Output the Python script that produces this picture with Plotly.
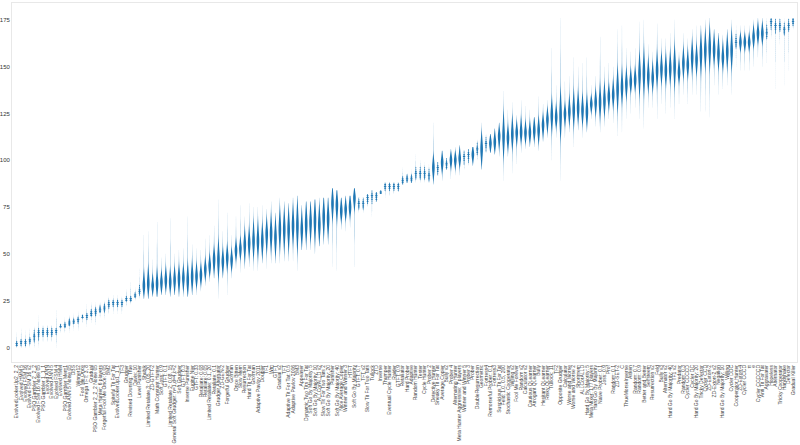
import plotly.graph_objects as go

labels = [
    "EvolvedLookerUp2_2_2", "Evolved HMM 5", "Evolved FSM 16", "Evolved FSM 16 v2", "PSO Gambler 2_2_2", "Evolved FSM 16 Noise 05", "PSO Gambler 1_1_1", "Evolved ANN", "Evolved ANN 5", "Evolved FSM 4",
    "Evolved HMM", "PSO Gambler Mem1", "Evolved ANN 5 Noise 05", "DBS", "Winner12", "Fool Me Once", "Omega TFT: 3, 8", "Gradual", "PSO Gambler 2_2_2 Noise 05", "Meta Hunter: 6 players",
    "Forgetful Fool Me Once: 0.05", "BM2", "Spiteful Tit For Tat", "EvolvedLookerUp1_1_1", "TF3", "Grudger", "Revised Downing: True", "Davis: 10", "Level Punisher", "Shubik",
    "Limited Retaliate 3: 0.05, 20", "ZD-GTFT-2", "Math Constant Hunter", "Soft Joss: 0.9", "GTFT: 0.1", "Limited Retaliate 2: 0.08, 15", "General Soft Grudger: n=1,d=4,c=2", "Soft Grudger", "GTFT: 0.3", "Inverse Punisher",
    "Eugine Nier", "GTFT: 0.33", "Retaliate: 0.08", "Retaliate: 0.05", "Limited Retaliate: 0.1, 20", "Retaliate: 0.1", "Grudger Alternator", "ZD-GEN-2", "Forgetful Grudger", "Gofman",
    "Once Bitten", "Slow Mem", "Resurrection", "Hard Tit For Tat", "Grofman", "Adaptive Pavlov 2011", "Doubler", "TF1", "Wm", "GTFT",
    "Gradual v2", "TFT", "Adaptive Tit For Tat: 0.5", "Adaptive Pavlov 2006", "BM3", "Appeaser", "Dynamic Two Tits For Tat", "Soft Go By Majority: 5", "Soft Go By Majority: 10", "ALLCorALLD v2",
    "Slow Tit For Two Tats 2", "Soft Go By Majority: 20", "Punisher", "Soft Go By Majority: 40", "Nice Average Copier", "Winner and Winner 3", "HTFT", "Soft Go By Majority", "GTFT: 0.7", "TFT v2",
    "Slow Tit For Two Tats", "Tullock", "ZTD", "Inverse", "Thumper", "Eventual Cycle Hunter", "Raider", "GTFT: 0.9", "Retaliator", "Hard Prober",
    "Adaptive", "Random Hunter", "Tester", "Cycle Hunter", "Prober 2", "Detective Hunter", "Sneaky Tit For Tat", "Average Copier", "Bully v2", "Prober 4",
    "Alternating Hunter", "Meta Hunter Aggressive: 7 players", "Winner and Winner 5", "Prober 3", "Prober", "DoubleResurrection", "Geometric", "Fortress4", "Remorseful Prober: 0.1", "Fortress3",
    "Suspicious Tit For Tat", "Feld: 1.0, 0.5, 200", "Stochastic Cooperator", "Willing v2", "Fool Me Forever", "Random v2", "Calculator v2", "Cautious QLearner", "Arrogant QLearner", "Bully",
    "Hesitant QLearner", "Risky QLearner", "Tullock: 11", "TF2", "Opposite Grudger", "Calculator", "Worse and Worse", "Worse and Worse 2", "Shortmem", "ALLCorALLD",
    "Hard Go By Majority: 5", "Meta Mixer: 177 players", "Hard Go By Majority", "Naive Prober: 0.1", "Joss: 0.9", "Prof", "Random: 0.1", "ZD-SET-2", "C", "ThueMorseInverse",
    "Aitken", "Random: 0.7", "Random: 0.9", "Better and Better", "Selfsteem", "Resurrection v2", "Feld", "Bully v3", "Alternator v2", "Hard Go By Majority: 40",
    "TF1 v2", "Predator", "Random: 0.3", "Cycler CCCCD", "Cycler DC", "Hard Go By Majority: 20", "Tricky Defector", "Cycler CCD", "ZD-Extort-2", "ZD-Extort-2 v2",
    "Negation", "Hard Go By Majority: 10", "Willing", "Cycler DDC", "Cooperator Hunter", "ZD-Extort-4", "Cycler CCCD", "π", "e", "Cycler CCCCCD",
    "Anti Tit For Tat", "Aggravater", "Hopeless", "Alternator", "Tricky Cooperator", "Handshake", "Defector", "Gradual Killer",
]

medians = [
    2, 3, 3, 4, 6, 8, 8, 8, 8, 9, 11, 12, 13, 14, 15, 16, 17, 18, 19, 20,
    21, 23, 24, 24, 24, 26, 26, 28, 30, 33, 34, 33, 34, 35, 36, 35, 36, 37, 37, 36,
    38, 38, 39, 42, 44, 47, 47, 46, 48, 47, 52, 53, 55, 56, 57, 57, 57, 61, 61, 59,
    63, 63, 63, 65, 65, 63, 66, 67, 68, 66, 70, 69, 77, 76, 73, 74, 75, 80, 77, 77,
    80, 81, 81, 83, 86, 86, 86, 86, 89, 90, 90, 93, 93, 93, 92, 96, 96, 99, 98, 100,
    100, 101, 102, 103, 103, 106, 106, 109, 109, 110, 113, 113, 112, 114, 115, 115, 115, 115, 116, 116,
    119, 122, 124, 123, 124, 125, 126, 127, 128, 127, 126, 130, 131, 131, 132, 134, 135, 138, 139, 141,
    142, 143, 146, 147, 145, 144, 148, 149, 148, 149, 150, 147, 152, 151, 155, 154, 157, 159, 160, 159,
    157, 155, 158, 159, 163, 163, 163, 163, 166, 168, 168, 168, 174, 172, 172, 170, 172, 174,
]
q1 = [
    1, 1, 1, 2, 3, 4, 6, 6, 6, 7, 11, 11, 12, 13, 13, 16, 15, 17, 17, 19,
    19, 21, 22, 22, 22, 25, 25, 27, 28, 28, 28, 29, 28, 30, 31, 30, 30, 30, 31, 29,
    31, 33, 34, 37, 39, 40, 38, 40, 42, 42, 47, 48, 47, 49, 49, 49, 49, 52, 52, 50,
    53, 53, 53, 56, 53, 55, 57, 58, 57, 57, 60, 60, 69, 68, 68, 69, 70, 74, 74, 74,
    77, 77, 78, 82, 84, 84, 84, 84, 87, 88, 88, 90, 90, 90, 89, 90, 92, 94, 95, 96,
    96, 97, 98, 99, 99, 103, 98, 105, 105, 105, 107, 103, 106, 107, 109, 110, 110, 110, 111, 110,
    113, 116, 116, 118, 113, 119, 120, 119, 121, 120, 119, 126, 125, 123, 125, 128, 129, 128, 131, 134,
    137, 138, 136, 136, 138, 138, 140, 142, 141, 142, 140, 142, 145, 145, 147, 147, 147, 150, 150, 152,
    150, 149, 150, 150, 160, 159, 159, 159, 161, 163, 163, 165, 170, 168, 169, 167, 169, 172,
]
q3 = [
    3, 4, 4, 5, 9, 10, 10, 10, 10, 10, 12, 13, 15, 15, 16, 17, 18, 20, 21, 22,
    23, 25, 25, 25, 25, 27, 27, 29, 33, 40, 42, 38, 41, 40, 42, 41, 42, 43, 43, 44,
    45, 44, 44, 47, 49, 53, 56, 52, 54, 52, 57, 58, 62, 63, 66, 66, 65, 68, 70, 68,
    73, 73, 73, 75, 77, 72, 76, 76, 78, 75, 79, 78, 85, 84, 79, 79, 81, 85, 80, 80,
    82, 84, 83, 84, 88, 88, 88, 88, 91, 92, 92, 96, 96, 96, 95, 102, 99, 104, 101, 104,
    104, 106, 105, 106, 107, 109, 114, 112, 113, 115, 118, 124, 118, 122, 120, 122, 120, 120, 122, 122,
    124, 127, 132, 129, 136, 130, 133, 136, 136, 134, 134, 134, 137, 140, 140, 140, 142, 148, 148, 148,
    148, 149, 156, 158, 153, 151, 157, 156, 156, 157, 160, 153, 159, 158, 163, 161, 167, 168, 170, 167,
    165, 162, 166, 168, 167, 167, 167, 167, 171, 173, 173, 172, 176, 175, 175, 173, 175, 176,
]
lows = [
    0, 0, 0, 0, 0, 0, 3, 3, 3, 0, 8, 8, 8, 9, 9, 13, 11, 13, 12, 16,
    15, 18, 18, 18, 18, 22, 23, 25, 26, 26, 26, 27, 27, 28, 28, 27, 28, 27, 27, 27,
    28, 28, 30, 33, 35, 37, 26, 37, 28, 37, 42, 40, 42, 43, 41, 41, 45, 42, 45, 45,
    45, 46, 46, 46, 41, 52, 52, 52, 50, 54, 55, 55, 43, 41, 63, 62, 64, 43, 72, 72,
    75, 70, 78, 82, 80, 81, 82, 83, 88, 88, 88, 88, 88, 88, 88, 87, 92, 89, 95, 90,
    92, 92, 95, 97, 97, 100, 95, 104, 104, 103, 102, 89, 102, 93, 98, 104, 106, 107, 107, 105,
    110, 112, 100, 112, 89, 112, 115, 107, 116, 112, 115, 122, 118, 115, 118, 122, 120, 113, 115, 122,
    125, 128, 122, 117, 128, 128, 122, 130, 125, 128, 122, 130, 135, 130, 135, 135, 126, 126, 123, 140,
    135, 138, 140, 135, 150, 148, 148, 148, 150, 155, 150, 152, 165, 138, 162, 140, 148, 170,
]
highs = [
    8, 10, 9, 10, 11, 17, 12, 12, 12, 20, 13, 16, 17, 18, 19, 18, 23, 24, 24, 24,
    25, 27, 28, 28, 27, 31, 35, 32, 42, 60, 62, 47, 67, 48, 50, 69, 50, 52, 53, 70,
    55, 53, 52, 58, 60, 65, 79, 62, 72, 60, 70, 76, 70, 77, 75, 75, 76, 74, 78, 72,
    80, 78, 77, 80, 81, 76, 78, 78, 79, 80, 80, 80, 82, 82, 80, 81, 80, 84, 80, 80,
    82, 84, 83, 84, 88, 88, 88, 88, 96, 93, 95, 103, 100, 99, 98, 120, 99, 105, 101, 106,
    107, 108, 105, 106, 107, 111, 120, 114, 114, 117, 120, 137, 127, 131, 124, 132, 129, 127, 123, 134,
    130, 132, 160, 140, 176, 142, 145, 155, 150, 152, 155, 140, 145, 166, 150, 152, 150, 170, 172, 160,
    158, 160, 174, 175, 162, 158, 173, 165, 165, 168, 175, 158, 168, 165, 170, 172, 172, 175, 176, 170,
    168, 167, 170, 175, 172, 172, 172, 172, 175, 176, 176, 176, 176, 176, 176, 176, 176, 176,
]
y_ticks = [0, 25, 50, 75, 100, 125, 150, 175]

assert len(labels) == len(medians) == len(q1) == len(q3) == len(lows) == len(highs), (
    len(labels), len(medians), len(q1), len(q3), len(lows), len(highs))

fig = go.Figure()

for i, name in enumerate(labels):
    spread = q3[i] - q1[i]
    # ranks seen for this strategy: every rank once, the busy middle many times
    core = list(range(q1[i], q3[i] + 1))
    inner = list(range((q1[i] + medians[i]) // 2, (medians[i] + q3[i]) // 2 + 1))
    outer = list(range((lows[i] + q1[i]) // 2, (q3[i] + highs[i]) // 2 + 1))
    ranks = list(range(lows[i], highs[i] + 1)) + outer * 2 + core * 12 + inner * 12 + [medians[i]] * (spread * 2)
    fig.add_trace(go.Violin(
        x=[i] * len(ranks),
        y=ranks,
        name=name,
        width=0.6,
        bandwidth=0.28 if spread <= 7 else spread / 7,
        spanmode='hard',
        scalemode='width',
        points=False,
        line=dict(width=0),
        fillcolor='#1f77b4',
        showlegend=False))

fig.update_layout(
    template='none',
    width=800,
    height=445,
    margin=dict(l=12, r=3, t=3, b=83, pad=0),
    paper_bgcolor='white',
    plot_bgcolor='white',
    font=dict(family='Liberation Sans', color='#333333'),
    xaxis=dict(
        automargin=False,
        range=[-1.07, 177.9],
        tickmode='array',
        tickvals=list(range(len(labels))),
        ticktext=labels,
        tickangle=-90,
        tickfont=dict(size=5, color='#444444'),
        ticks='',
        showgrid=False,
        zeroline=False,
        showline=True,
        linecolor='#e8e8e8',
        mirror=True),
    yaxis=dict(
        automargin=False,
        range=[-7.8, 184],
        tickmode='array',
        tickvals=y_ticks,
        tickfont=dict(size=6),
        ticks='',
        showgrid=False,
        zeroline=False,
        showline=True,
        linecolor='#e8e8e8',
        mirror=True))

fig.write_html("out.html", config=dict(displayModeBar=False), post_script="document.body.style.margin = '0';")
